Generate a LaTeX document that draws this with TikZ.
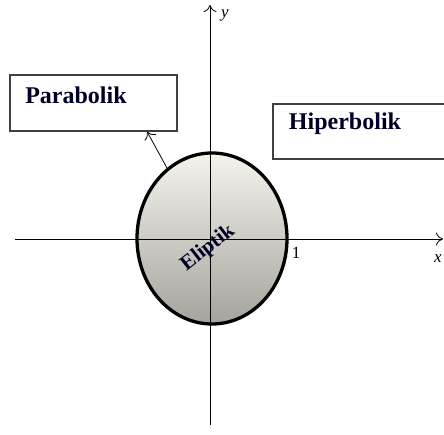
\documentclass[tikz,border=0pt]{standalone}
\usepackage{fontspec}
\setmainfont{Liberation Serif}
\usetikzlibrary{arrows.meta}
\begin{document}
\begin{tikzpicture}[x=1pt,y=-1pt,
  axis/.style={line width=0.8pt,-{To[length=7pt,width=13pt,line width=0.8pt]}},
  lbox/.style={draw=black!75,line width=1.1pt,fill=white},
  btext/.style={font=\fontsize{24}{28}\selectfont\bfseries,text=black!85!blue,inner sep=0pt},
  ltext/.style={font=\fontsize{17}{20}\selectfont,inner sep=0pt}]
\useasboundingbox (0,0) rectangle (444,435);
% ellipse
\shade[top color={rgb,255:red,245;green,244;blue,236},bottom color={rgb,255:red,165;green,163;blue,155}]
  (212,238.5) ellipse [x radius=75,y radius=85.5];
% axes
\coordinate (xs) at (15,239);
\coordinate (xe) at (443,239);
\coordinate (ys) at (210,425);
\coordinate (ye) at (210,5);
\draw[axis] (xs) -- (xe);
\draw[axis] (ys) -- (ye);
\draw[line width=3.3pt] (212,238.5) ellipse [x radius=75,y radius=85.5];
\node[ltext,font=\fontsize{17}{20}\selectfont\itshape] (ylab) at (225,15) {y};
\node[ltext,font=\fontsize{17}{20}\selectfont\itshape] (xlab) at (438,259) {x};
\node[ltext] (one) at (296,253) {1};
\node[btext,font=\fontsize{21}{24}\selectfont\bfseries,rotate=38] (ell) at (208,248) {Eliptik};
% boxes
\node[lbox,minimum width=167pt,minimum height=56pt,inner sep=0pt] (pbox) at (93.5,103) {};
\node[btext] (ptext) at (76,95) {Parabolik};
\node[lbox,minimum width=172pt,minimum height=55pt,inner sep=0pt] (hbox) at (359,131.5) {};
\node[btext] (htext) at (345,124) {Hiperbolik};
\coordinate (astart) at (167,168);
\draw[line width=0.8pt,-{To[length=7pt,width=13pt,line width=0.8pt]}] (astart) -- (pbox.south -| 147,0) ;
\end{tikzpicture}
\end{document}
